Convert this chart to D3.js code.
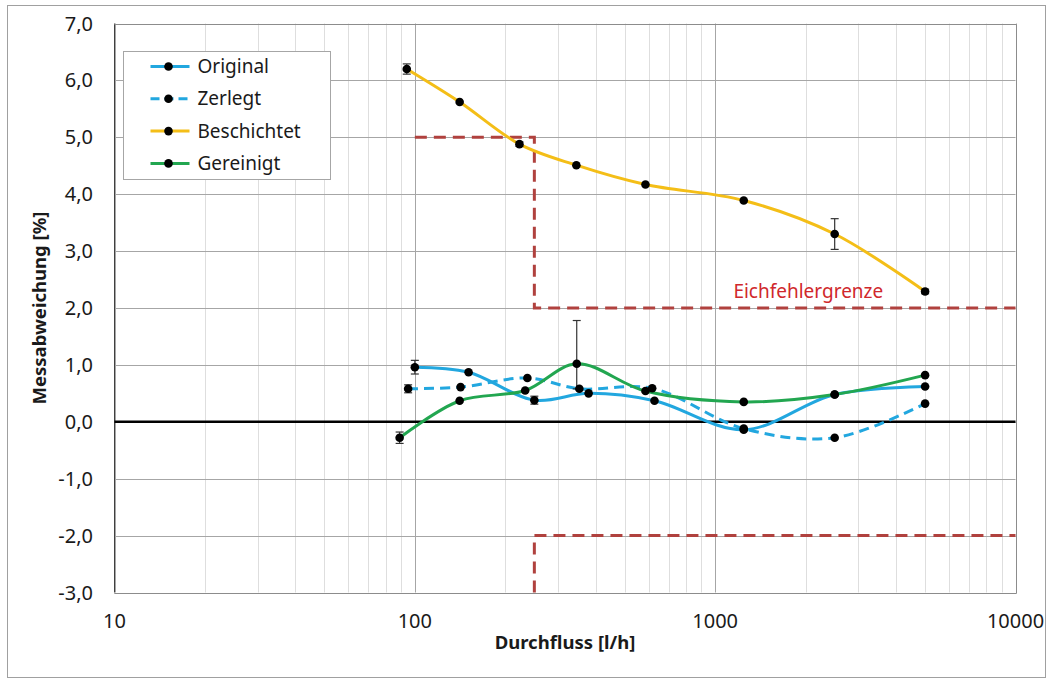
<!DOCTYPE html>
<html>

<head>
    <meta charset="UTF-8" />
    <title>Messabweichung</title>
    <style>
        body {
            margin: 0;
            padding: 0;
            background: #fff;
            font-family: 'Noto Sans', 'Open Sans', sans-serif;
        }
    </style>
</head>

<body>
    <div class="container"></div>

    <script src="https://cdnjs.cloudflare.com/ajax/libs/d3/7.8.5/d3.min.js"></script>
    <script>
        // data
        const origX = [100, 151, 250, 379, 628, 1245, 2500, 5000];
        const origY = [0.96, 0.87, 0.38, 0.50, 0.37, -0.14, 0.48, 0.62];
        const origErr = [0.12, 0, 0.07, 0, 0, 0, 0, 0];

        const zerlX = [95, 142, 237, 353, 617, 1245, 2500, 5000];
        const zerlY = [0.58, 0.61, 0.77, 0.58, 0.59, -0.12, -0.28, 0.32];
        const zerlErr = [0.07, 0, 0, 0, 0, 0, 0, 0];

        const beschX = [94, 141, 223, 345, 586, 1245, 2500, 5000];
        const beschY = [6.20, 5.62, 4.88, 4.51, 4.17, 3.89, 3.30, 2.29];
        const beschErr = [0.09, 0, 0.04, 0, 0, 0, 0.27, 0.04];

        const gerX = [89, 141, 233, 346, 586, 1245, 2500, 5000];
        const gerY = [-0.28, 0.37, 0.55, 1.02, 0.54, 0.35, 0.48, 0.82];
        const gerErrPlus = [0.10, 0, 0, 0.76, 0, 0, 0, 0];
        const gerErrMinus = [0.10, 0, 0, 0.44, 0, 0, 0, 0];

        // Eichfehlergrenze
        const limitUpperX = [100, 250, 250, 10000];
        const limitUpperY = [5, 5, 2, 2];
        const limitLowerX = [250, 250, 10000];
        const limitLowerY = [-3, -2, -2];

        const xTicks = [10, 100, 1000, 10000];
        const yTicks = [-3, -2, -1, 0, 1, 2, 3, 4, 5, 6, 7];

        const W = 1047, H = 680;
        const margin = { top: 23.5, right: 31.5, bottom: 87.5, left: 114.5 };

        const svg = d3.select(".container").append("svg")
            .attr("width", W)
            .attr("height", H);

        // outer frame
        svg.append("rect")
            .attr("x", 7.5).attr("y", 5.5)
            .attr("width", W - 9).attr("height", H - 8)
            .attr("fill", "none")
            .attr("stroke", "#a0a0a0");

        const x = d3.scaleLog().domain([10, 10000]).range([margin.left, W - margin.right]);
        const y = d3.scaleLinear().domain([-3, 7]).range([H - margin.bottom, margin.top]);

        const loc = d3.formatLocale({ decimal: ",", thousands: "", grouping: [3], currency: ["", ""], minus: "-" });
        const fmtY = loc.format(".1f");

        const g = svg.append("g");

        // minor vertical grid
        const minor = [];
        for (let d = 10; d < 10000; d *= 10) {
            for (let k = 2; k <= 9; k++) minor.push(d * k);
        }
        g.selectAll(".minor").data(minor).enter().append("line")
            .attr("x1", d => Math.round(x(d)) + 0.5).attr("x2", d => Math.round(x(d)) + 0.5)
            .attr("y1", y(7)).attr("y2", y(-3))
            .attr("stroke", "#dedede");

        // major grid
        g.selectAll(".vmaj").data(xTicks).enter().append("line")
            .attr("x1", d => Math.round(x(d)) + 0.5).attr("x2", d => Math.round(x(d)) + 0.5)
            .attr("y1", y(7)).attr("y2", y(-3))
            .attr("stroke", "#a6a6a6");
        g.selectAll(".hmaj").data(yTicks).enter().append("line")
            .attr("x1", x(10)).attr("x2", x(10000))
            .attr("y1", d => Math.round(y(d)) + 0.5).attr("y2", d => Math.round(y(d)) + 0.5)
            .attr("stroke", "#a6a6a6");

        // left axis line
        g.append("line")
            .attr("x1", x(10)).attr("x2", x(10))
            .attr("y1", y(7)).attr("y2", y(-3))
            .attr("stroke", "#404040");
        // zero line
        g.append("line")
            .attr("x1", x(10)).attr("x2", x(10000))
            .attr("y1", y(0)).attr("y2", y(0))
            .attr("stroke", "#000").attr("stroke-width", 2.5);

        // tick labels
        g.selectAll(".yl").data(yTicks).enter().append("text")
            .attr("x", 93).attr("y", d => y(d))
            .attr("dy", "0.35em")
            .attr("text-anchor", "end")
            .attr("font-size", 20)
            .attr("fill", "#1a1a1a")
            .text(d => fmtY(d));
        g.selectAll(".xl").data(xTicks).enter().append("text")
            .attr("x", d => x(d)).attr("y", 628)
            .attr("text-anchor", "middle")
            .attr("font-size", 20)
            .attr("fill", "#1a1a1a")
            .text(d => d);

        // axis titles
        svg.append("text")
            .attr("x", (x(10) + x(10000)) / 2).attr("y", 649)
            .attr("text-anchor", "middle")
            .attr("font-size", 18.5).attr("font-weight", "bold")
            .attr("fill", "#1a1a1a")
            .text("Durchfluss [l/h]");
        svg.append("text")
            .attr("transform", `translate(46,${(y(7) + y(-3)) / 2}) rotate(-90)`)
            .attr("text-anchor", "middle")
            .attr("font-size", 18.5).attr("font-weight", "bold")
            .attr("fill", "#1a1a1a")
            .text("Messabweichung [%]");

        // limit lines
        const limLine = d3.line().x(d => x(d[0])).y(d => y(d[1]));
        [[limitUpperX, limitUpperY], [limitLowerX, limitLowerY]].forEach(([xs, ys]) => {
            g.append("path")
                .attr("d", limLine(xs.map((v, i) => [v, ys[i]])))
                .attr("fill", "none")
                .attr("stroke", "#b0413e")
                .attr("stroke-width", 3)
                .attr("stroke-dasharray", "12,7");
        });
        g.append("text")
            .attr("x", x(1150)).attr("y", y(2) - 10)
            .attr("font-size", 19)
            .attr("fill", "#d0282c")
            .text("Eichfehlergrenze");

        const series = [
            { name: "Original", xs: origX, ys: origY, up: origErr, down: origErr, color: "#22a7df", dash: null },
            { name: "Zerlegt", xs: zerlX, ys: zerlY, up: zerlErr, down: zerlErr, color: "#22a7df", dash: "10,6" },
            { name: "Beschichtet", xs: beschX, ys: beschY, up: beschErr, down: beschErr, color: "#f4be17", dash: null },
            { name: "Gereinigt", xs: gerX, ys: gerY, up: gerErrPlus, down: gerErrMinus, color: "#22a650", dash: null }
        ];

        const curve = d3.line()
            .x(d => x(d.x)).y(d => y(d.y))
            .curve(d3.curveCatmullRom.alpha(0.5));

        series.forEach(s => {
            const pts = s.xs.map((v, i) => ({ x: v, y: s.ys[i], up: s.up[i], down: s.down[i] }));
            g.append("path")
                .attr("d", curve(pts))
                .attr("fill", "none")
                .attr("stroke", s.color)
                .attr("stroke-width", 3)
                .attr("stroke-dasharray", s.dash);
            s.pts = pts;
        });

        // error bars
        series.forEach(s => {
            const eb = g.append("g").attr("stroke", "#333").attr("stroke-width", 1.2);
            s.pts.filter(p => p.up > 0 || p.down > 0).forEach(p => {
                const cx = x(p.x);
                eb.append("line").attr("x1", cx).attr("x2", cx)
                    .attr("y1", y(p.y + p.up)).attr("y2", y(p.y - p.down));
                eb.append("line").attr("x1", cx - 4).attr("x2", cx + 4)
                    .attr("y1", y(p.y + p.up)).attr("y2", y(p.y + p.up));
                eb.append("line").attr("x1", cx - 4).attr("x2", cx + 4)
                    .attr("y1", y(p.y - p.down)).attr("y2", y(p.y - p.down));
            });
        });

        // markers
        series.forEach(s => {
            g.selectAll(null).data(s.pts).enter().append("circle")
                .attr("cx", d => x(d.x)).attr("cy", d => y(d.y))
                .attr("r", 4.3)
                .attr("fill", "#000");
        });

        // plot frame (top/right/bottom)
        g.append("path")
            .attr("d", `M${x(10)},${Math.round(y(7)) + 0.5}H${Math.round(x(10000)) + 0.5}V${Math.round(y(-3)) + 0.5}H${x(10)}`)
            .attr("fill", "none")
            .attr("stroke", "#8c8c8c");

        // legend
        const lg = svg.append("g").attr("transform", "translate(123.5,51.5)");
        lg.append("rect")
            .attr("width", 207).attr("height", 128)
            .attr("fill", "#fff")
            .attr("stroke", "#a6a6a6");
        series.forEach((s, i) => {
            const ly = 15 + i * 32.3;
            lg.append("line")
                .attr("x1", 27).attr("x2", 66)
                .attr("y1", ly).attr("y2", ly)
                .attr("stroke", s.color).attr("stroke-width", 3)
                .attr("stroke-dasharray", s.dash ? "9,5" : null);
            lg.append("circle").attr("cx", 45).attr("cy", ly).attr("r", 4.3).attr("fill", "#000");
            lg.append("text")
                .attr("x", 74).attr("y", ly)
                .attr("dy", "0.35em")
                .attr("font-size", 19)
                .attr("fill", "#1a1a1a")
                .text(s.name);
        });
    </script>
</body>

</html>
